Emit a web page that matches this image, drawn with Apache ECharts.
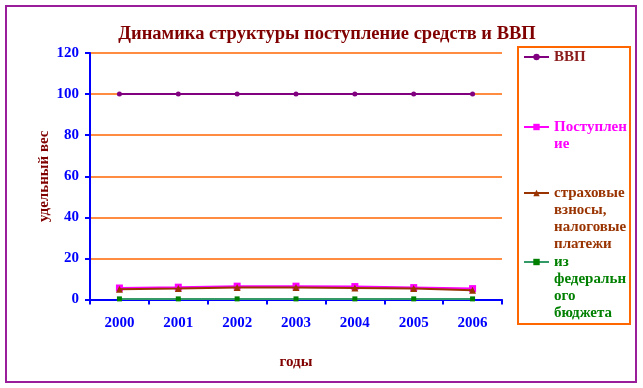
<!DOCTYPE html>
<html>
<head>
<meta charset="utf-8">
<script src="https://cdn.jsdelivr.net/npm/echarts@6/dist/echarts.min.js"></script>
<style>html,body{margin:0;padding:0;background:#fff}#c{width:643px;height:388px}</style>
</head>
<body>
<div id="c"></div>
<script>
var categories = ['2000', '2001', '2002', '2003', '2004', '2005', '2006'];
var vvp = [100, 100, 100, 100, 100, 100, 100];
var postuplenie = [5.6, 6.0, 6.5, 6.5, 6.3, 5.8, 5.3];
var strahovye = [5.0, 5.3, 5.8, 5.8, 5.6, 5.3, 4.5];
var federal = [0.3, 0.3, 0.3, 0.3, 0.3, 0.3, 0.3];
var yTicks = [0, 20, 40, 60, 80, 100, 120];

var seriesNames = ['ВВП', 'Поступление', 'страховые взносы, налоговые платежи', 'из федерального бюджета'];
var legendLines = [
  ['ВВП'],
  ['Поступлен', 'ие'],
  ['страховые', 'взносы,', 'налоговые', 'платежи'],
  ['из', 'федеральн', 'ого', 'бюджета']
];

var FONT = '"Liberation Serif", "Times New Roman", serif';
var LH = 17;
var legendIconY = [57, 127, 193, 262];
var legendColors = ['#8b1a1a', '#ff00ff', '#993300', '#008000'];

var chart = echarts.init(document.getElementById('c'));

var legends = seriesNames.map(function (name, i) {
  var n = legendLines[i].length;
  var pad = '';
  for (var k = 0; k < n - 1; k++) pad += '\n';
  var text = pad + legendLines[i].join('\n');
  return {
    data: [{ name: name, textStyle: { color: legendColors[i] } }],
    left: 523,
    top: legendIconY[i] - (2 * n - 1) * LH / 2,
    orient: 'vertical',
    padding: 0,
    itemWidth: 25,
    itemHeight: 8,
    selectedMode: false,
    formatter: function () { return text; },
    textStyle: { fontFamily: FONT, fontSize: 15, fontWeight: 'bold', lineHeight: LH }
  };
});

chart.setOption({
  animation: false,
  backgroundColor: '#fff',
  title: {
    text: 'Динамика структуры поступление средств и ВВП',
    left: 322,
    textAlign: 'center',
    top: 20,
    textStyle: { fontFamily: FONT, fontSize: 18.5, fontWeight: 'bold', color: '#800000' }
  },
  legend: legends,
  graphic: [
    { type: 'rect', shape: { x: 6, y: 6, width: 630, height: 376 }, style: { fill: null, stroke: '#9a1e9a', lineWidth: 2 }, z: 100 },
    { type: 'rect', shape: { x: 518, y: 47, width: 112, height: 277 }, style: { fill: null, stroke: '#ff6600', lineWidth: 2 }, z: 100 }
  ],
  grid: { left: 90, right: 141, top: 53, height: 246.5 },
  xAxis: {
    type: 'category',
    data: categories,
    boundaryGap: true,
    name: 'годы',
    nameLocation: 'middle',
    nameGap: 55,
    nameMoveOverlap: false,
    nameTextStyle: { fontFamily: FONT, fontSize: 15, fontWeight: 'bold', color: '#800000' },
    axisLine: { lineStyle: { color: '#0000ff', width: 2 } },
    axisTick: { show: true, interval: 0, length: 5, lineStyle: { color: '#0000ff', width: 2 } },
    axisLabel: { interval: 0, margin: 16, fontFamily: FONT, fontSize: 15, fontWeight: 'bold', color: '#0000ff' },
    splitLine: { show: false }
  },
  yAxis: {
    type: 'value',
    min: yTicks[0],
    max: yTicks[yTicks.length - 1],
    interval: yTicks[1] - yTicks[0],
    name: 'удельный вес',
    nameLocation: 'middle',
    nameGap: 38,
    nameRotate: 90,
    nameMoveOverlap: false,
    nameTextStyle: { fontFamily: FONT, fontSize: 15, fontWeight: 'bold', color: '#800000' },
    axisLine: { show: true, lineStyle: { color: '#0000ff', width: 2 } },
    axisTick: { show: true, length: 5, lineStyle: { color: '#0000ff', width: 2 } },
    axisLabel: { margin: 11, fontFamily: FONT, fontSize: 15, fontWeight: 'bold', color: '#0000ff' },
    splitLine: { show: true, lineStyle: { color: '#ff6600', width: 1.5 } }
  },
  series: [
    {
      name: seriesNames[0], type: 'line', data: vvp,
      symbol: 'circle', symbolSize: 5,
      lineStyle: { color: '#800080', width: 2 },
      itemStyle: { color: '#800080' }, z: 5
    },
    {
      name: seriesNames[1], type: 'line', data: postuplenie,
      symbol: 'rect', symbolSize: 7,
      lineStyle: { color: '#ff00ff', width: 2 },
      itemStyle: { color: '#ff00ff' }, z: 3
    },
    {
      name: seriesNames[2], type: 'line', data: strahovye,
      symbol: 'triangle', symbolSize: 7,
      lineStyle: { color: '#993300', width: 2 },
      itemStyle: { color: '#993300' }, z: 4
    },
    {
      name: seriesNames[3], type: 'line', data: federal,
      symbol: 'rect', symbolSize: 5,
      lineStyle: { color: '#339966', width: 2 },
      itemStyle: { color: '#008000' }, z: 2
    }
  ]
});
</script>
</body>
</html>
